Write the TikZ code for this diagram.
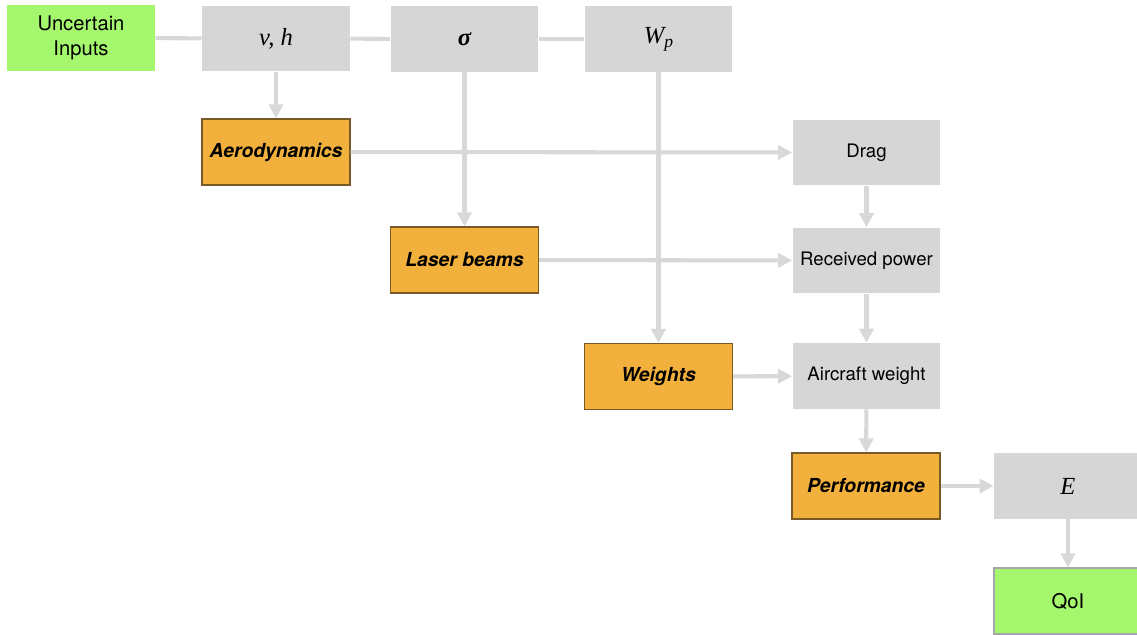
\documentclass[tikz,border=0pt]{standalone}
\usepackage{amsmath}
\usepackage{fontspec}
\setsansfont{TeX Gyre Heros}
\newfontfamily\symfont{Liberation Serif}
\usepackage{tikz}
\usetikzlibrary{arrows.meta}
\definecolor{boxgray}{RGB}{214,214,214}
\definecolor{linegray}{RGB}{216,216,216}
\definecolor{modorange}{RGB}{242,177,60}
\definecolor{modedge}{RGB}{120,90,40}
\definecolor{iogreen}{RGB}{165,247,110}
\tikzset{
  anybox/.style={minimum width=2.96cm,minimum height=1.32cm,inner sep=0pt,align=center,
    font=\sffamily\fontsize{10.6}{13}\selectfont},
  varbox/.style={anybox,fill=boxgray},
  symbox/.style={varbox,font=\symfont\itshape\fontsize{14}{16}\selectfont},
  modbox/.style={anybox,fill=modorange,draw=modedge,line width=0.6pt,
    font=\sffamily\bfseries\itshape\fontsize{11}{13}\selectfont},
  iobox/.style={anybox,fill=iogreen,font=\sffamily\fontsize{11.5}{14}\selectfont},
  link/.style={draw=linegray,line width=2.3pt},
  flow/.style={link,-{Triangle[length=8pt,width=8pt]}},
}
\begin{document}
\begin{tikzpicture}[x=0.02cm,y=-0.02cm]
            \useasboundingbox (0,0) rectangle (1137,635);
            % top row of inputs
            \node[iobox] (inp) at (81,38) {Uncertain\\Inputs};
            \node[symbox] (vh) at (276,38.5) {v, h};
            \node[symbox] (sig) at (464.5,39) {\bfseries σ};
            \node[symbox] (wp) at (658.5,39) {W\raisebox{-0.35ex}{\fontsize{10}{12}\selectfont p}};
            % models
            \node[modbox] (aero) at (276,152) {Aerodynamics};
            \node[modbox] (laser) at (464.5,260) {Laser beams};
            \node[modbox] (wts) at (658.5,376.5) {Weights};
            \node[modbox] (perf) at (866,486) {Performance};
            % intermediate quantities
            \node[varbox] (drag) at (866.5,152.5) {Drag};
            \node[varbox] (pow) at (866.5,260.5) {Received power};
            \node[varbox] (acw) at (866.5,376) {Aircraft weight};
            \node[symbox] (en) at (1068,486) {E};
            \node[iobox,draw=gray!70,line width=0.6pt] (qoi) at (1068,601) {QoI};
            % connectors
            \draw[link] (inp) -- (vh);
            \draw[link] (vh) -- (sig);
            \draw[link] (sig) -- (wp);
            \draw[flow] (aero) -- (drag);
            \draw[flow] (laser) -- (pow);
            \draw[flow] (vh) -- (aero);
            \draw[flow] (sig) -- (laser);
            \draw[flow] (wp) -- (wts);
            \draw[flow] (wts) -- (acw);
            \draw[flow] (drag) -- (pow);
            \draw[flow] (pow) -- (acw);
            \draw[flow] (acw) -- (perf);
            \draw[flow] (perf) -- (en);
            \draw[flow] (en) -- (qoi);
        \end{tikzpicture}
\end{document}
